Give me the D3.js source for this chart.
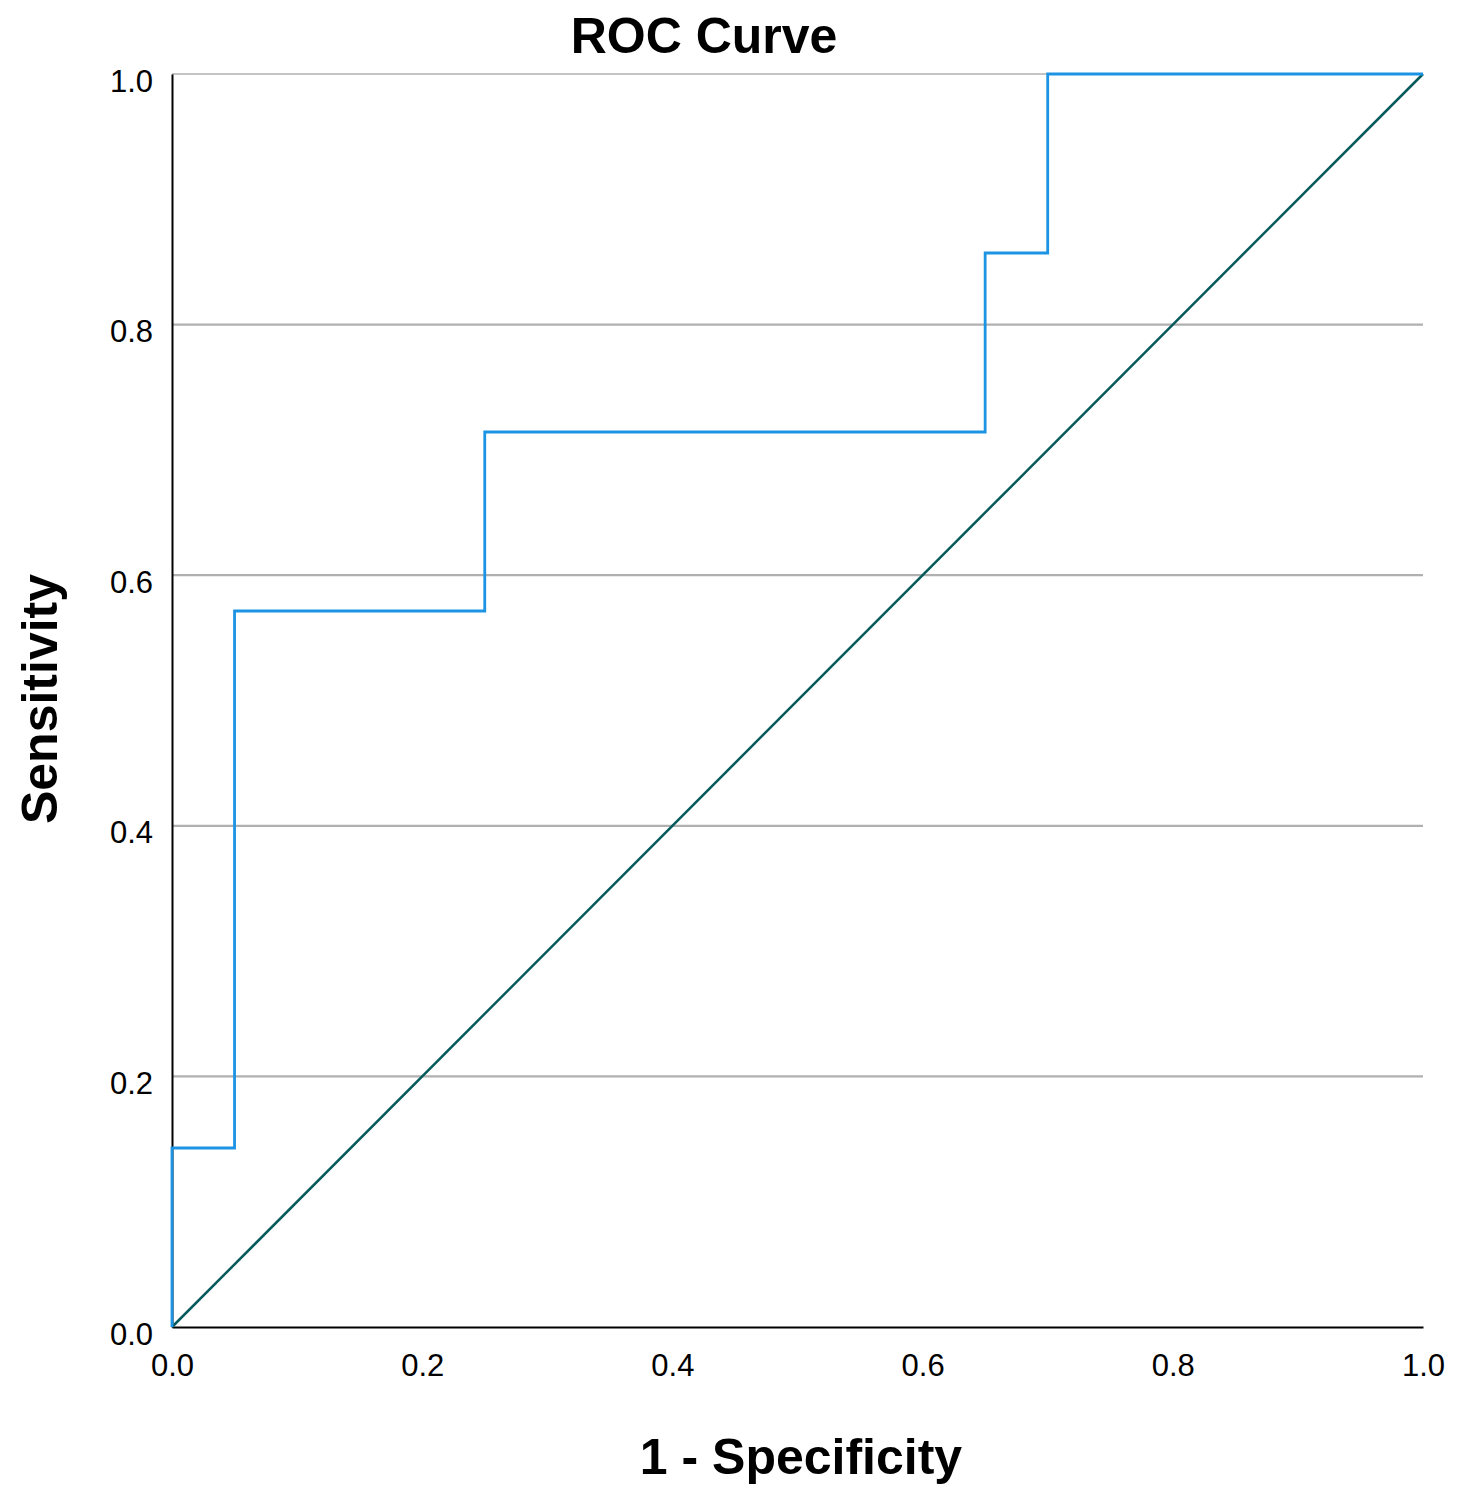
<!DOCTYPE html>
<html>
<head>
<meta charset="utf-8">
<script src="https://cdn.jsdelivr.net/npm/d3@7"></script>
<style>
  body { margin: 0; background: #fff; }
  text { font-family: Arial, "Liberation Sans", sans-serif; }
</style>
</head>
<body>
<svg id="chart"></svg>
<script>
// ROC curve points (1 - specificity, sensitivity)
const fpr = [0, 0, 0.05, 0.05, 0.25, 0.25, 0.65, 0.65, 0.70, 0.70, 1.0];
const tpr = [0, 1 / 7, 1 / 7, 4 / 7, 4 / 7, 5 / 7, 5 / 7, 6 / 7, 6 / 7, 1, 1];
const refLine = [0, 1];
const tickValues = [0, 0.2, 0.4, 0.6, 0.8, 1.0];

const margin = { top: 74, right: 48, bottom: 173, left: 172 };
const width = 1471 - margin.left - margin.right;
const height = 1500 - margin.top - margin.bottom;

const svg = d3.select("#chart")
    .attr("width", 1471)
    .attr("height", 1500);

const g = svg.append("g")
    .attr("transform", "translate(" + margin.left + "," + margin.top + ")");

const x = d3.scaleLinear().domain([0, 1]).range([0, width]);
const y = d3.scaleLinear().domain([0, 1]).range([height, 0]);

// Gridlines
g.append("g")
    .selectAll("line")
    .data(tickValues.filter(d => d > 0))
    .enter()
    .append("line")
    .attr("x1", 0)
    .attr("x2", width)
    .attr("y1", d => y(d))
    .attr("y2", d => y(d))
    .attr("stroke", "#b0b0b0")
    .attr("stroke-width", d => d === 1 ? 1.5 : 2.2);

// Axes (no tick marks)
const xAxis = g.append("g")
    .attr("transform", "translate(0," + height + ")")
    .call(d3.axisBottom(x).tickValues(tickValues).tickFormat(d3.format(".1f")).tickSize(0).tickPadding(27));
const yAxis = g.append("g")
    .call(d3.axisLeft(y).tickValues(tickValues).tickFormat(d3.format(".1f")).tickSize(0).tickPadding(19));

[xAxis, yAxis].forEach(a => {
    a.select(".domain").attr("stroke", "#000").attr("stroke-width", 2);
    a.selectAll("text").style("font-size", "31px").attr("fill", "#000");
});
yAxis.selectAll("text").attr("dy", "0.55em");

// Reference diagonal
g.append("line")
    .attr("x1", x(refLine[0])).attr("y1", y(refLine[0]))
    .attr("x2", x(refLine[1])).attr("y2", y(refLine[1]))
    .attr("stroke", "#065a5c")
    .attr("stroke-width", 2.5);

// ROC curve
const pts = fpr.map((f, i) => [f, tpr[i]]);
g.append("path")
    .datum(pts)
    .attr("fill", "none")
    .attr("stroke", "#1d93e3")
    .attr("stroke-width", 2.8)
    .attr("d", d3.line().x(d => x(d[0])).y(d => y(d[1])));

// Title
svg.append("text")
    .attr("x", 704)
    .attr("y", 53)
    .attr("text-anchor", "middle")
    .style("font-size", "50px")
    .style("font-weight", "bold")
    .text("ROC Curve");

// Axis labels
svg.append("text")
    .attr("x", 801)
    .attr("y", 1474)
    .attr("text-anchor", "middle")
    .style("font-size", "50px")
    .style("font-weight", "bold")
    .text("1 - Specificity");

svg.append("text")
    .attr("transform", "translate(57,699) rotate(-90)")
    .attr("text-anchor", "middle")
    .style("font-size", "50px")
    .style("font-weight", "bold")
    .text("Sensitivity");
</script>
</body>
</html>
